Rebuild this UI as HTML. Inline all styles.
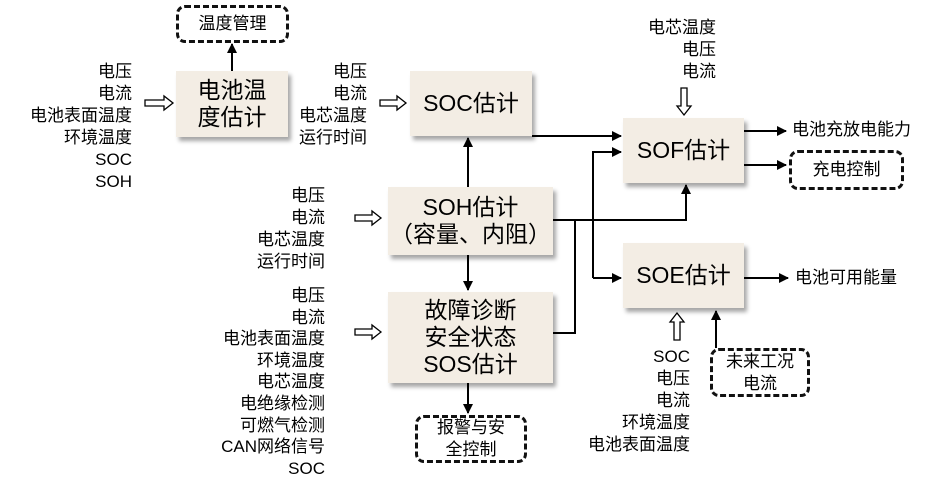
<!DOCTYPE html>
<html><head><meta charset="utf-8"><style>
body{margin:0;background:#fff;}
#c{position:relative;width:926px;height:482px;overflow:hidden;font-family:"Liberation Sans","Noto Sans CJK SC",sans-serif;color:#000;}
.b{position:absolute;background:#f3ede4;box-shadow:3px 4px 4px rgba(0,0,0,0.35);display:flex;align-items:center;justify-content:center;text-align:center;font-size:23px;line-height:27px;}
.d{position:absolute;border:3px dashed #111;border-radius:9px;box-sizing:border-box;display:flex;align-items:center;justify-content:center;text-align:center;font-size:17px;line-height:22px;}
.l{position:absolute;text-align:right;font-size:17px;line-height:22px;white-space:nowrap;}
svg{position:absolute;left:0;top:0;}
</style></head><body><div id="c">
<svg width="926" height="482">
<defs><marker id="a" markerWidth="10" markerHeight="10" refX="9" refY="5" orient="auto" markerUnits="userSpaceOnUse"><path d="M0,0 L10,5 L0,10z" fill="#000"/></marker></defs>
<g stroke="#000" stroke-width="2" fill="none">
<path d="M232 71 V44" marker-end="url(#a)"/>
<path d="M532 136 H621" marker-end="url(#a)"/>
<path d="M468 187 V138" marker-end="url(#a)"/>
<path d="M468 255 V290" marker-end="url(#a)"/>
<path d="M468 383 V413" marker-end="url(#a)"/>
<path d="M553 220 H686 V185" marker-end="url(#a)"/>
<path d="M553 333 H575 V220"/>
<path d="M575 220 H593"/>
<path d="M593 278 V152 H621" marker-end="url(#a)"/>
<path d="M593 278 H621" marker-end="url(#a)"/>
<path d="M744 131 H786" marker-end="url(#a)"/>
<path d="M744 165 H786" marker-end="url(#a)"/>
<path d="M744 278 H788" marker-end="url(#a)"/>
<path d="M716 348 V311" marker-end="url(#a)"/>
</g>
<g stroke="#000" stroke-width="1.3" fill="#fff">
<path d="M145 100 H164 V96 L173 103 L164 110 V106 H145z"/>
<path d="M380 100 H397 V96 L406 103 L397 110 V106 H380z"/>
<path d="M355 215 H372 V211 L381 218 L372 225 V221 H355z"/>
<path d="M355 329 H372 V325 L381 332 L372 339 V335 H355z"/>
<path d="M681 88 V106 H677 L684 115 L691 106 H687 V88z"/>
<path d="M674 340 V322 H670 L677 313 L684 322 H680 V340z"/>
</g>
</svg>
<div class="d" style="left:176px;top:5px;width:113px;height:38px">温度管理</div>
<div class="b" style="left:176px;top:71px;width:112px;height:66px">电池温<br>度估计</div>
<div class="b" style="left:410px;top:71px;width:122px;height:65px">SOC估计</div>
<div class="b" style="left:623px;top:118px;width:121px;height:65px">SOF估计</div>
<div class="b" style="left:388px;top:187px;width:165px;height:68px">SOH估计<br>（容量、内阻）</div>
<div class="b" style="left:388px;top:292px;width:165px;height:91px">故障诊断<br>安全状态<br>SOS估计</div>
<div class="b" style="left:623px;top:243px;width:121px;height:65px">SOE估计</div>
<div class="d" style="left:415px;top:415px;width:112px;height:48px">报警与安<br>全控制</div>
<div class="d" style="left:789px;top:150px;width:115px;height:40px">充电控制</div>
<div class="d" style="left:710px;top:348px;width:100px;height:49px">未来工况<br>电流</div>
<div class="l" style="right:794px;top:61px">电压<br>电流<br>电池表面温度<br>环境温度<br>SOC<br>SOH</div>
<div class="l" style="right:559px;top:61px">电压<br>电流<br>电芯温度<br>运行时间</div>
<div class="l" style="right:601px;top:185px">电压<br>电流<br>电芯温度<br>运行时间</div>
<div class="l" style="right:601px;top:285px;line-height:21.6px">电压<br>电流<br>电池表面温度<br>环境温度<br>电芯温度<br>电绝缘检测<br>可燃气检测<br>CAN网络信号<br>SOC</div>
<div class="l" style="right:210px;top:17px">电芯温度<br>电压<br>电流</div>
<div class="l" style="right:236px;top:346px">SOC<br>电压<br>电流<br>环境温度<br>电池表面温度</div>
<div class="l" style="left:792px;top:119px">电池充放电能力</div>
<div class="l" style="left:795px;top:267px">电池可用能量</div>
</div></body></html>
